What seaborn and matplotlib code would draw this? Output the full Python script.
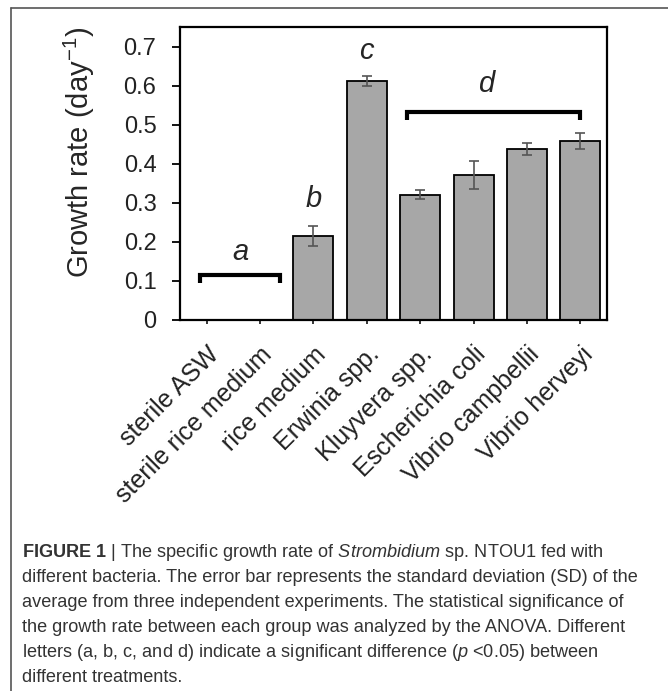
import matplotlib
matplotlib.use('Agg')
import matplotlib.pyplot as plt
from matplotlib.lines import Line2D
import numpy as np
import pandas as pd
import seaborn as sns

# growth rate per treatment (mean and SD)
treatments = ['sterile ASW', 'sterile rice medium', 'rice medium', 'Erwinia spp.',
              'Kluyvera spp.', 'Escherichia coli', 'Vibrio campbellii', 'Vibrio herveyi']
growth = [0, 0, 0.215, 0.611, 0.321, 0.371, 0.438, 0.458]
sd = [0, 0, 0.025, 0.013, 0.011, 0.035, 0.016, 0.020]

# significance groups
letters = ['a', 'b', 'c', 'd']
letter_x = [0.64, 2.0, 3.0, 5.24]
letter_y = [0.175, 0.31, 0.688, 0.603]
bracket_x = [(-0.12, 1.38), (3.75, 7.0)]
bracket_y = [0.115, 0.532]

yticks = [0, 0.1, 0.2, 0.3, 0.4, 0.5, 0.6, 0.7]
ytick_labels = ['0', '0.1', '0.2', '0.3', '0.4', '0.5', '0.6', '0.7']

caption_lines = [
    r'$\mathbf{FIGURE\ 1}$ | The specific growth rate of $\mathit{Strombidium}$ sp. NTOU1 fed with',
    'different bacteria. The error bar represents the standard deviation (SD) of the',
    'average from three independent experiments. The statistical significance of',
    'the growth rate between each group was analyzed by the ANOVA. Different',
    r'letters (a, b, c, and d) indicate a significant difference ($\mathit{p}$ <0.05) between',
    'different treatments.',
]

sns.set_style('white')
plt.rcParams['font.family'] = ['Liberation Sans', 'DejaVu Sans']
plt.rcParams['mathtext.fontset'] = 'custom'
plt.rcParams['mathtext.rm'] = 'Liberation Sans'
plt.rcParams['mathtext.it'] = 'Liberation Sans:italic'
plt.rcParams['mathtext.bf'] = 'Liberation Sans:bold'

W, H = 668, 691
fig = plt.figure(figsize=(W / 100, H / 100), dpi=100)
ax = fig.add_axes([180 / W, 1 - 320 / H, 427 / W, 293 / H])

df = pd.DataFrame({'treatment': treatments, 'growth': growth})
sns.barplot(data=df, x='treatment', y='growth', color='#a7a7a7', saturation=1,
            edgecolor='black', linewidth=1.3, width=0.75, errorbar=None, ax=ax)

idx = [i for i, s in enumerate(sd) if s > 0]
ax.errorbar(idx, [growth[i] for i in idx], yerr=[sd[i] for i in idx], fmt='none',
            ecolor='#555555', elinewidth=1.2, capsize=3.5, capthick=1.2, zorder=5)

# brackets and letters
for (x0, x1), y in zip(bracket_x, bracket_y):
    ax.plot([x0, x0, x1, x1], [y - 0.02, y, y, y - 0.02], color='black', lw=3,
            solid_joinstyle='miter', solid_capstyle='butt', clip_on=False)
for l, x, y in zip(letters, letter_x, letter_y):
    ax.text(x, y, l, style='italic', fontsize=21, ha='center', va='center')

ax.set_xlim(-0.5, 7.5)
ax.set_ylim(0, 0.75)
ax.set_yticks(yticks)
ax.set_yticklabels(ytick_labels)
ax.set_xticks(range(len(treatments)))
ax.set_xticklabels(treatments, rotation=45, ha='right', va='top',
                   rotation_mode='anchor', fontsize=18)
ax.set_xlabel('')
ax.set_ylabel('Growth rate (day$^{-1}$)', fontsize=21)
ax.yaxis.set_label_coords(-0.195, 0.572)

ax.tick_params(axis='y', direction='out', length=6, width=1.3, pad=11, labelsize=17,
               left=True, colors='black', labelcolor='#222222')
ax.tick_params(axis='x', direction='out', length=3, width=1.3, pad=13,
               bottom=True, labelcolor='#222222')
for sp in ax.spines.values():
    sp.set_linewidth(1.6)
    sp.set_color('black')

# outer frame (left and top edges)
fig.add_artist(Line2D([11 / W, 11 / W], [0, 1 - 8 / H], transform=fig.transFigure,
                      color='#555555', lw=1.2))
fig.add_artist(Line2D([11 / W, 1], [1 - 8 / H, 1 - 8 / H], transform=fig.transFigure,
                      color='#555555', lw=1.2))

# caption, one line per row on a common baseline grid
for i, line in enumerate(caption_lines):
    fig.text(22 / W, 1 - (557 + 25 * i) / H, line, fontsize=13.1, color='#333333',
             ha='left', va='baseline')

fig.savefig('out.png', dpi=100)
